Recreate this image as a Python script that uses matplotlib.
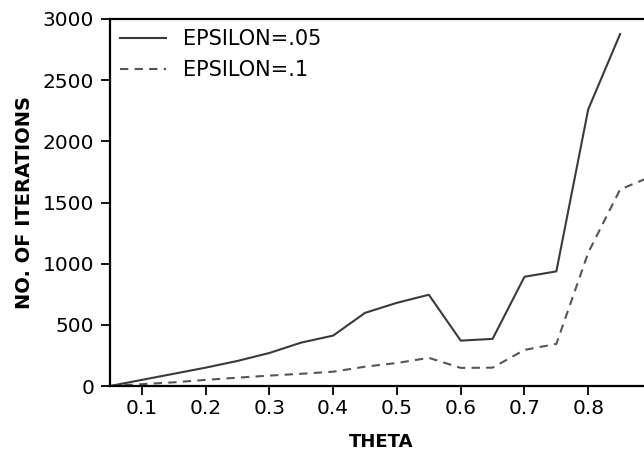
import matplotlib.pyplot as plt

plt.rcParams['font.family'] = ['DejaVu Sans']

theta = [0.05, 0.1, 0.15, 0.2, 0.25, 0.3, 0.35, 0.4, 0.45, 0.5, 0.55,
         0.6, 0.65, 0.7, 0.75, 0.8, 0.85]
iters_eps05 = [0, 50, 100, 150, 205, 270, 355, 412, 598, 680, 746,
               371, 385, 893, 937, 2262, 2877]

theta_b = theta + [0.9]
iters_eps1 = [0, 15, 30, 50, 68, 85, 100, 117, 158, 188, 230,
              148, 150, 295, 344, 1090, 1607, 1715]

xticks = [0.1, 0.2, 0.3, 0.4, 0.5, 0.6, 0.7, 0.8]
yticks = [0, 500, 1000, 1500, 2000, 2500, 3000]

W, H = 644, 453
fig = plt.figure(figsize=(W / 100, H / 100), dpi=100)
# axes run past the right edge, so the right spine is cut off
ax = fig.add_axes([110 / W, (H - 386) / H, (652 - 110) / W, (386 - 19) / H])

ax.plot(theta, iters_eps05, '-', color='#3a3a3a', lw=1.5, label='EPSILON=.05')
ax.plot(theta_b, iters_eps1, '--', color='#555555', lw=1.5,
        dashes=(4, 3), label='EPSILON=.1')

ax.set_xlim(0.05, 0.9)
ax.set_ylim(0, 3000)
ax.set_xticks(xticks)
ax.set_xticklabels([f'{t:.1f}' for t in xticks])
ax.set_yticks(yticks)
ax.tick_params(direction='out', length=6.5, width=1.3, labelsize=14.5, pad=3)
ax.tick_params(axis='y', pad=5)
for s in ax.spines.values():
    s.set_linewidth(1.6)

ax.set_xlabel('THETA', fontsize=13, fontweight='bold', labelpad=11)
ax.set_ylabel('NO. OF ITERATIONS', fontsize=14, fontweight='bold', labelpad=6)

ax.legend(loc='upper left', frameon=False, fontsize=15, handlelength=2.2,
          handletextpad=0.8, borderaxespad=0.1, labelspacing=0.5)

fig.savefig('out.png', dpi=100)
